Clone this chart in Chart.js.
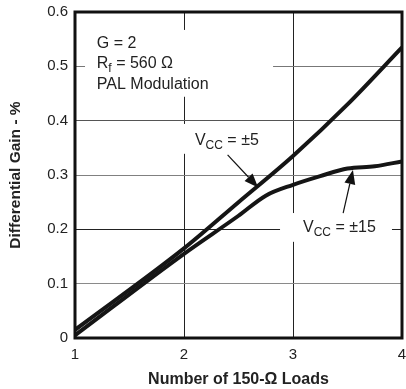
<!DOCTYPE html>
<html>
<head>
<meta charset="utf-8">
<script src="https://cdn.jsdelivr.net/npm/chart.js@4.4.0/dist/chart.umd.min.js"></script>
<style>
  html, body { margin: 0; padding: 0; background: #fff; }
</style>
</head>
<body>
<canvas id="myChart" width="406" height="389"></canvas>
<script>
// data
const loadsVcc5 = [1, 2, 2.5, 3, 3.5, 4];
const gainVcc5 = [0.015, 0.165, 0.25, 0.335, 0.43, 0.535];
const loadsVcc15 = [1, 2, 2.5, 2.75, 3, 3.25, 3.5, 3.75, 4];
const gainVcc15 = [0.005, 0.155, 0.225, 0.262, 0.282, 0.298, 0.312, 0.316, 0.325];
const xTickValues = [1, 2, 3, 4];
const yTickValues = [0, 0.1, 0.2, 0.3, 0.4, 0.5, 0.6];

const font = '"Liberation Sans", Arial, sans-serif';
const gridColors = ['#000', '#8a8a8a', '#222', '#808080', '#555', '#777', '#000'];

function toPoints(xs, ys) {
    return xs.map((x, i) => ({ x: x, y: ys[i] }));
}

// draw "V" + sub "CC" + rest
function drawSubText(ctx, parts, x, y) {
    parts.forEach(p => {
        ctx.font = (p.sub ? '12px ' : '16px ') + font;
        ctx.fillText(p.t, x, y + (p.sub ? 4 : 0));
        x += ctx.measureText(p.t).width;
    });
}

function arrow(ctx, x1, y1, x2, y2) {
    const a = Math.atan2(y2 - y1, x2 - x1);
    const len = 14, half = 5.5;
    ctx.beginPath();
    ctx.moveTo(x1, y1);
    ctx.lineTo(x2 - Math.cos(a) * len, y2 - Math.sin(a) * len);
    ctx.lineWidth = 1.2;
    ctx.stroke();
    ctx.beginPath();
    ctx.moveTo(x2, y2);
    ctx.lineTo(x2 - Math.cos(a) * len - Math.sin(a) * half, y2 - Math.sin(a) * len + Math.cos(a) * half);
    ctx.lineTo(x2 - Math.cos(a) * len + Math.sin(a) * half, y2 - Math.sin(a) * len - Math.cos(a) * half);
    ctx.closePath();
    ctx.fill();
}

// labels, white boxes behind them, arrows and frame
const notes = {
    id: 'notes',
    beforeDatasetsDraw(chart) {
        const { ctx, scales: { x, y } } = chart;
        ctx.save();
        ctx.fillStyle = '#fff';
        // boxes that break the grid lines behind the text
        [[1.092, 0.567, 2.817, 0.444], [1.963, 0.394, 2.807, 0.339], [2.881, 0.230, 3.908, 0.177]].forEach(b => {
            ctx.fillRect(x.getPixelForValue(b[0]), y.getPixelForValue(b[1]),
                x.getPixelForValue(b[2]) - x.getPixelForValue(b[0]), y.getPixelForValue(b[3]) - y.getPixelForValue(b[1]));
        });
        ctx.fillStyle = '#222';
        ctx.textBaseline = 'alphabetic';
        const tx = x.getPixelForValue(1.2);
        const ty = y.getPixelForValue(0.534);
        drawSubText(ctx, [{ t: 'G = 2' }], tx, ty);
        drawSubText(ctx, [{ t: 'R' }, { t: 'f', sub: true }, { t: ' = 560 Ω' }], tx, ty + 20.5);
        drawSubText(ctx, [{ t: 'PAL Modulation' }], tx, ty + 41);
        drawSubText(ctx, [{ t: 'V' }, { t: 'CC', sub: true }, { t: ' = ±5' }], x.getPixelForValue(2.1), y.getPixelForValue(0.355));
        drawSubText(ctx, [{ t: 'V' }, { t: 'CC', sub: true }, { t: ' = ±15' }], x.getPixelForValue(3.092), y.getPixelForValue(0.195));
        ctx.restore();
    },
    afterDatasetsDraw(chart) {
        const { ctx, chartArea: a, scales: { x, y } } = chart;
        ctx.save();
        ctx.strokeStyle = '#111';
        ctx.fillStyle = '#111';
        arrow(ctx, x.getPixelForValue(2.40), y.getPixelForValue(0.337), x.getPixelForValue(2.68), y.getPixelForValue(0.277));
        arrow(ctx, x.getPixelForValue(3.46), y.getPixelForValue(0.230), x.getPixelForValue(3.55), y.getPixelForValue(0.309));
        ctx.lineWidth = 3;
        ctx.strokeRect(a.left, a.top, a.right - a.left, a.bottom - a.top);
        ctx.restore();
    }
};

const ctx = document.getElementById('myChart').getContext('2d');
const myChart = new Chart(ctx, {
    type: 'line',
    data: {
        datasets: [{
            label: 'VCC = ±5',
            data: toPoints(loadsVcc5, gainVcc5),
            borderColor: '#151515',
            borderWidth: 4,
            pointRadius: 0,
            cubicInterpolationMode: 'monotone'
        }, {
            label: 'VCC = ±15',
            data: toPoints(loadsVcc15, gainVcc15),
            borderColor: '#151515',
            borderWidth: 4,
            pointRadius: 0,
            cubicInterpolationMode: 'monotone'
        }]
    },
    options: {
        responsive: false,
        animation: false,
        layout: { padding: { top: 12, right: 4, left: 0, bottom: 0 } },
        plugins: { legend: { display: false }, tooltip: { enabled: false } },
        scales: {
            x: {
                type: 'linear',
                min: 1,
                max: 4,
                afterFit: s => { s.height = 51; s.paddingLeft = 0; s.paddingRight = 0; },
                afterBuildTicks: s => { s.ticks = xTickValues.map(v => ({ value: v })); },
                ticks: { color: '#222', font: { family: font, size: 15 }, padding: 8 },
                grid: { drawTicks: false, color: '#222', lineWidth: 1 },
                border: { display: false },
                title: {
                    display: true,
                    text: 'Number of 150-Ω Loads',
                    color: '#222',
                    font: { family: font, size: 16, weight: 'bold' },
                    padding: { top: 4, bottom: 0 }
                }
            },
            y: {
                min: 0,
                max: 0.6,
                afterFit: s => { s.width = 75; s.paddingTop = 0; s.paddingBottom = 0; },
                afterBuildTicks: s => { s.ticks = yTickValues.map(v => ({ value: v })); },
                ticks: {
                    color: '#222',
                    font: { family: font, size: 15 },
                    padding: 7,
                    callback: v => v === 0 ? '0' : v.toFixed(1)
                },
                grid: {
                    drawTicks: false,
                    lineWidth: 1,
                    color: c => gridColors[Math.round(c.tick.value * 10)]
                },
                border: { display: false },
                title: {
                    display: true,
                    text: 'Differential Gain - %',
                    color: '#222',
                    font: { family: font, size: 15.5, weight: 'bold' },
                    padding: { top: 6, bottom: 6 }
                }
            }
        }
    },
    plugins: [notes]
});
</script>
</body>
</html>
